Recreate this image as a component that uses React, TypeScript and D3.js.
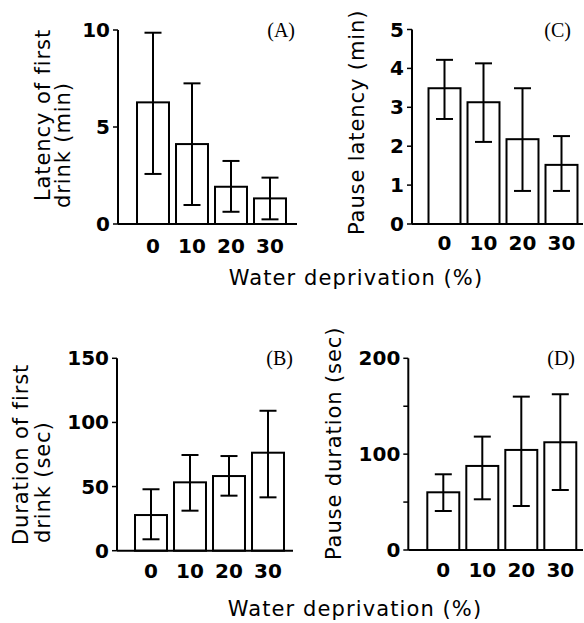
import * as d3 from 'd3';
import React from 'react';

// categories shared by every panel
const deprivation = ['0', '10', '20', '30'];

// panel A: latency of first drink (min)
const latencyMean = [6.27, 4.12, 1.92, 1.32];
const latencyUpper = [9.86, 7.25, 3.25, 2.39];
const latencyLower = [2.58, 0.98, 0.63, 0.24];

// panel B: duration of first drink (sec)
const durationMean = [27.8, 53.3, 58.2, 76.4];
const durationUpper = [47.9, 74.6, 73.8, 109.1];
const durationLower = [8.9, 31.2, 42.9, 41.6];

// panel C: pause latency (min)
const pauseLatMean = [3.49, 3.13, 2.18, 1.52];
const pauseLatUpper = [4.22, 4.13, 3.49, 2.26];
const pauseLatLower = [2.70, 2.11, 0.85, 0.85];

// panel D: pause duration (sec)
const pauseDurMean = [60.2, 87.7, 104.4, 112.4];
const pauseDurUpper = [79, 118.3, 160, 162.5];
const pauseDurLower = [40.7, 52.9, 45.9, 62.6];

const font = 'DejaVu Sans, Verdana, sans-serif';

function Panel(props) {
    const {
        axisX, yTop, yBottom, xEnd, bandStart, yMax, ticks, minorTicks = [],
        mean, upper, lower, tag, tagX, tagY, tickBaseline,
        titles,
    } = props;

    // scales
    const x = d3.scaleBand()
        .domain(deprivation)
        .range([bandStart, bandStart + 156])
        .paddingInner(0.18)
        .paddingOuter(0.09);
    const y = d3.scaleLinear().domain([0, yMax]).range([yBottom, yTop]);
    const cap = 8.5;

    return (
        <g>
            {/* bars */}
            {deprivation.map((c, i) => (
                <rect key={'b' + c} x={x(c)} y={y(mean[i])} width={x.bandwidth()}
                    height={y(0) - y(mean[i])} fill="white" stroke="black" strokeWidth={2} />
            ))}
            {/* error bars */}
            {deprivation.map((c, i) => {
                const cx = x(c) + x.bandwidth() / 2;
                return (
                    <g key={'e' + c} stroke="black" strokeWidth={2}>
                        <line x1={cx} x2={cx} y1={y(upper[i])} y2={y(lower[i])} />
                        <line x1={cx - cap} x2={cx + cap} y1={y(upper[i])} y2={y(upper[i])} />
                        <line x1={cx - cap} x2={cx + cap} y1={y(lower[i])} y2={y(lower[i])} />
                    </g>
                );
            })}
            {/* axes */}
            <line x1={axisX} x2={axisX} y1={yTop} y2={yBottom} stroke="black" strokeWidth={2} />
            <line x1={axisX} x2={xEnd} y1={yBottom} y2={yBottom} stroke="black" strokeWidth={2} />
            {ticks.concat(minorTicks).map((t) => (
                <line key={'t' + t} x1={axisX - 5} x2={axisX} y1={y(t)} y2={y(t)} stroke="black" strokeWidth={1.5} />
            ))}
            {ticks.map((t) => (
                <text key={'l' + t} x={axisX - 8} y={y(t) + 7} textAnchor="end"
                    fontFamily={font} fontWeight="bold" fontSize={20}>{t}</text>
            ))}
            {deprivation.map((c) => (
                <text key={'x' + c} x={x(c) + x.bandwidth() / 2} y={tickBaseline} textAnchor="middle"
                    fontFamily={font} fontWeight="bold" fontSize={20}>{c}</text>
            ))}
            {/* y titles */}
            {titles.map((t) => (
                <text key={t.text} transform={`translate(${t.x},${t.y}) rotate(-90)`} textAnchor="start"
                    fontFamily={font} fontSize={21} letterSpacing={0.9}>{t.text}</text>
            ))}
            <text x={tagX} y={tagY} textAnchor="end" fontFamily="Liberation Serif, Times New Roman, serif"
                fontSize={20}>{tag}</text>
        </g>
    );
}

function App() {
    return (
        <svg width={584} height={623} style={{ position: 'absolute', left: 0, top: 0, background: 'white' }}>
            <Panel axisX={118} yTop={30} yBottom={224} xEnd={297} bandStart={133.5} yMax={10}
                ticks={[0, 5, 10]} mean={latencyMean} upper={latencyUpper} lower={latencyLower}
                tag="(A)" tagX={295} tagY={37} tickBaseline={253}
                titles={[{ text: 'Latency of first', x: 50, y: 201 }, { text: 'drink (min)', x: 70, y: 208 }]} />
            <Panel axisX={412} yTop={29.5} yBottom={224} xEnd={583} bandStart={425} yMax={5}
                ticks={[0, 1, 2, 3, 4, 5]} mean={pauseLatMean} upper={pauseLatUpper} lower={pauseLatLower}
                tag="(C)" tagX={571} tagY={37} tickBaseline={250}
                titles={[{ text: 'Pause latency (min)', x: 364, y: 235 }]} />
            <Panel axisX={117} yTop={358.3} yBottom={550.7} xEnd={293} bandStart={131.5} yMax={150}
                ticks={[0, 50, 100, 150]} mean={durationMean} upper={durationUpper} lower={durationLower}
                tag="(B)" tagX={293} tagY={365} tickBaseline={578}
                titles={[{ text: 'Duration of first', x: 28, y: 545 }, { text: 'drink (sec)', x: 50, y: 543 }]} />
            <Panel axisX={408.3} yTop={358.3} yBottom={550} xEnd={583} bandStart={423.8} yMax={200}
                ticks={[0, 100, 200]} minorTicks={[50, 150]} mean={pauseDurMean} upper={pauseDurUpper} lower={pauseDurLower}
                tag="(D)" tagX={575} tagY={365} tickBaseline={577}
                titles={[{ text: 'Pause duration (sec)', x: 341, y: 560 }]} />
            <text x={356} y={285} textAnchor="middle" fontFamily={font} fontSize={21} letterSpacing={1.1}>Water deprivation (%)</text>
            <text x={355} y={616} textAnchor="middle" fontFamily={font} fontSize={21} letterSpacing={1.1}>Water deprivation (%)</text>
        </svg>
    );
}

export default App;
